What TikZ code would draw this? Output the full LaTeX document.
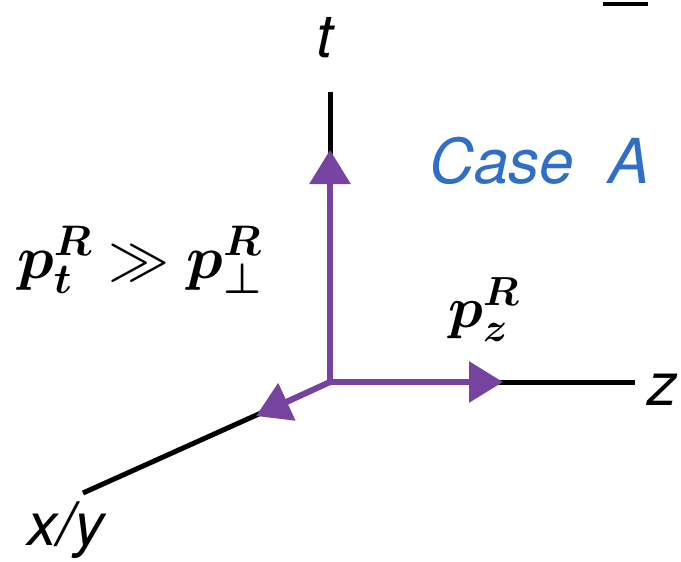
\RequirePackage{fix-cm}
\documentclass[tikz,border=0pt]{standalone}
\usepackage{fontspec}
\usepackage{bm}
\usetikzlibrary{arrows.meta}
\newfontfamily\helv{TeX Gyre Heros}
\definecolor{vecpurple}{RGB}{118,68,160}
\definecolor{caseblue}{RGB}{48,110,200}
\tikzset{
  axisline/.style={line width=5pt, black},
  vecline/.style={line width=6pt, vecpurple, -{Triangle[length=34pt,width=40pt]}},
  axislabel/.style={font=\helv\itshape\fontsize{60}{66}\selectfont, inner sep=0pt, anchor=base},
  mathlabel/.style={inner sep=0pt, anchor=base west},
}
\begin{document}
\begin{tikzpicture}[x=1pt,y=-1pt]
\useasboundingbox (0,0) rectangle (681,562);
% axes
\coordinate (O) at (330,382);
\coordinate (tend) at (330,92);
\coordinate (zend) at (635,382);
\coordinate (xend) at (83,493);
\draw[axisline] (O) -- (tend);
\draw[axisline] (O) -- (zend);
\draw[axisline] (O) -- (xend);
% top-right dash
\coordinate (d1) at (603,4);
\coordinate (d2) at (648,4);
\draw[line width=4pt] (d1) -- (d2);
% vectors
\coordinate (pt) at (330,150);
\coordinate (pz) at (503,382);
\coordinate (pp) at (256,416);
\draw[vecline] (O) -- (pt);
\draw[vecline] (O) -- (pz);
\draw[vecline] (O) -- (pp);
% labels
\node[axislabel] (tlab) at (325,57) {t};
\node[axislabel] (zlab) at (662,405) {z};
\node[axislabel] (xylab) at (66,545) {x/y};
\node[axislabel, text=caseblue, font=\helv\itshape\fontsize{62}{68}\selectfont] (caselab) at (540,183) {Case\ \ A};
\node[mathlabel, font=\fontsize{61}{67}\selectfont] (ineq) at (17,278) {$\bm{p}_{\bm{t}}^{\bm{R}}\gg\bm{p}_{\bm{\perp}}^{\bm{R}}$};
\node[mathlabel, font=\fontsize{58}{64}\selectfont] (pzlab) at (448,327) {$\bm{p}_{\bm{z}}^{\bm{R}}$};
\end{tikzpicture}
\end{document}
